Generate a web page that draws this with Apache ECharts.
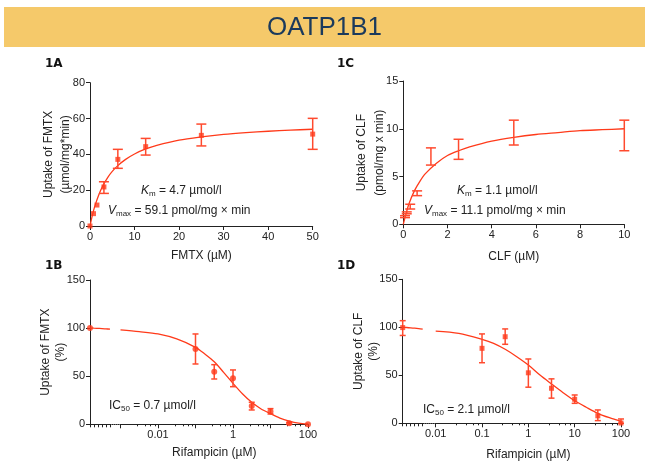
<!DOCTYPE html>
<html>
<head>
<meta charset="utf-8">
<script src="https://cdn.jsdelivr.net/npm/echarts@6/dist/echarts.min.js"></script>
<style>html,body{margin:0;padding:0;background:#fff}#c{width:649px;height:465px}</style>
</head>
<body>
<div id="c"></div>
<script>
// ---------- Panel 1A: FMTX uptake (Michaelis-Menten) ----------
const fmtxConc      = [0, 0.78, 1.56, 3.125, 6.25, 12.5, 25, 50];
const fmtxUptake    = [0, 6.9, 11.7, 21.8, 37.2, 44.3, 50.6, 51.3];
const fmtxErrLow    = [0, 6.9, 11.7, 18.2, 32.2, 39.6, 44.7, 42.8];
const fmtxErrHigh   = [0, 6.9, 11.7, 24.7, 42.8, 48.9, 56.9, 60.1];
const fmtxFitX      = [0, 0.5, 1, 2, 3, 4, 5, 6.25, 8, 10, 12.5, 15, 20, 25, 30, 35, 40, 45, 50];
const fmtxFitY      = [0, 5.7, 10.4, 17.6, 23, 27.2, 30.5, 33.7, 37.2, 40.2, 43, 45, 47.9, 49.7, 51.1, 52.1, 52.9, 53.5, 54];
const fmtxXTicks    = [0, 10, 20, 30, 40, 50];
const fmtxYTicks    = [0, 20, 40, 60, 80];

// ---------- Panel 1C: CLF uptake (Michaelis-Menten) ----------
const clfConc       = [0.078, 0.156, 0.3125, 0.625, 1.25, 2.5, 5, 10];
const clfUptake     = [0.8, 1.2, 1.85, 3.25, 7.1, 7.85, 9.6, 9.3];
const clfErrLow     = [0.7, 1.1, 1.6, 3.0, 6.2, 6.8, 8.3, 7.7];
const clfErrHigh    = [0.9, 1.3, 2.1, 3.5, 8.0, 8.9, 10.9, 10.9];
const clfFitX       = [0, 0.1, 0.25, 0.5, 0.75, 1, 1.5, 2, 2.5, 3, 4, 5, 6, 7, 8, 9, 10];
const clfFitY       = [0, 0.9, 2.1, 3.5, 4.5, 5.3, 6.4, 7.2, 7.7, 8.1, 8.7, 9.1, 9.4, 9.6, 9.8, 9.9, 10];
const clfXTicks     = [0, 2, 4, 6, 8, 10];
const clfYTicks     = [0, 5, 10, 15];

// ---------- Panel 1B: FMTX inhibition by rifampicin ----------
const segX          = [0, 1, 2, 3, 4, 5];          // broken-axis segment holding the control (0 µM)
const rifBControl   = 100;
const rifBSegFitY   = [100, 99.9, 99.7, 99.5, 99.2, 98.9];
const rifBConc      = [0.1, 0.316, 1, 3.16, 10, 31.6, 100];
const rifBUptake    = [78.3, 54.7, 47.8, 19, 13.2, 1, 0];
const rifBErrLow    = [62.7, 47.1, 39.1, 14.9, 10.7, 0, 0];
const rifBErrHigh   = [93.9, 62.0, 56.5, 22.9, 16.3, 2, 0];
const rifBFitX      = [0.001, 0.00316, 0.01, 0.0316, 0.1, 0.178, 0.316, 0.562, 1, 1.78, 3.16, 5.62, 10, 17.8, 31.6, 56.2, 100];
const rifBFitY      = [98.1, 96.3, 93.9, 88.7, 80, 73, 65, 54, 42.6, 31.8, 22.8, 15.9, 11, 6.5, 3.4, 1.3, 0.3];
const rifBXLabels   = ['0.01', '1', '100'];

// ---------- Panel 1D: CLF inhibition by rifampicin ----------
const rifDControl   = 99.7;
const rifDCtlErr    = [91.5, 106.9];
const rifDSegFitY   = [100, 99.8, 99.5, 99.1, 98.6, 98.0];
const rifDConc      = [0.1, 0.316, 1, 3.16, 10, 31.6, 100];
const rifDUptake    = [78.1, 90.2, 52.6, 36.5, 25, 7.8, 0.3];
const rifDErrLow    = [63.1, 82.3, 37.6, 26.2, 20.8, 2.8, 0];
const rifDErrHigh   = [93.1, 98.3, 67.0, 46.3, 29.5, 13.9, 4.5];
const rifDFitX      = [0.01, 0.0316, 0.1, 0.178, 0.316, 0.562, 1, 1.78, 3.16, 5.62, 10, 17.8, 31.6, 56.2, 100];
const rifDFitY      = [96.1, 93.7, 87.5, 83.3, 77.1, 69.4, 60.7, 50.3, 41, 31.9, 23.5, 16.7, 10.4, 5.8, 2];
const rifDXLabels   = ['0.01', '0.1', '1', '10', '100'];
const pctYTicks     = [0, 50, 100, 150];

// ---------- styling ----------
const RED = '#FF3A1A';
const ERR = '#FF4A2E';
const TXT = '#222222';
const FONT = 'Liberation Sans, Arial, sans-serif';

const zip = (...arrs) => arrs[0].map((_, i) => arrs.map(a => a[i]));
const step = t => t[1] - t[0];

function baseAxis(extra) {
  return Object.assign({
    nameMoveOverlap: false,
    axisLine: { show: true, onZero: false, lineStyle: { color: TXT, width: 1 } },
    axisTick: { show: true, length: 4, lineStyle: { color: TXT, width: 1 } },
    axisLabel: { color: TXT, fontSize: 11, fontFamily: FONT, margin: 5 },
    splitLine: { show: false },
    nameTextStyle: { color: TXT, fontSize: 12, fontFamily: FONT, lineHeight: 16 }
  }, extra);
}
function hiddenAxis(extra) {
  return Object.assign({ show: false, splitLine: { show: false } }, extra);
}
function errRender(capHalf) {
  return function (params, api) {
    const x = api.value(0);
    const lo = api.coord([x, api.value(1)]);
    const hi = api.coord([x, api.value(2)]);
    const st = { stroke: ERR, lineWidth: 1.5 };
    return {
      type: 'group',
      children: [
        { type: 'line', shape: { x1: lo[0], y1: lo[1], x2: hi[0], y2: hi[1] }, style: st },
        { type: 'line', shape: { x1: hi[0] - capHalf, y1: hi[1], x2: hi[0] + capHalf, y2: hi[1] }, style: st },
        { type: 'line', shape: { x1: lo[0] - capHalf, y1: lo[1], x2: lo[0] + capHalf, y2: lo[1] }, style: st }
      ]
    };
  };
}
function errSeries(xi, yi, rows, capHalf) {
  return { type: 'custom', xAxisIndex: xi, yAxisIndex: yi, renderItem: errRender(capHalf),
    encode: { x: 0, y: [1, 2] }, data: rows.filter(r => r[1] !== r[2]), z: 3, silent: true, clip: false };
}
function fitSeries(xi, yi, xs, ys) {
  return { type: 'line', xAxisIndex: xi, yAxisIndex: yi, data: zip(xs, ys), showSymbol: false,
    smooth: 0.3, lineStyle: { color: RED, width: 1.3 }, z: 2, silent: true, clip: false };
}
function ptSeries(xi, yi, xs, ys, symbol, size) {
  return { type: 'scatter', xAxisIndex: xi, yAxisIndex: yi, data: zip(xs, ys), symbol: symbol,
    symbolSize: size, itemStyle: { color: RED }, z: 4, silent: true, clip: false };
}
const fmtNum = v => String(Number(Number(v).toPrecision(6)));

const grids = [
  { left: 90,    top: 82.7, width: 222.7, height: 143.3 }, // 0: 1A
  { left: 403.3, top: 81,   width: 221,   height: 143.3 }, // 1: 1C
  { left: 90,    top: 280,  width: 20,    height: 144.3 }, // 2: 1B segment
  { left: 110,   top: 280,  width: 10.5,  height: 144.3 }, // 3: 1B break
  { left: 120.5, top: 280,  width: 187.5, height: 144.3 }, // 4: 1B main
  { left: 402.7, top: 279.3, width: 20,   height: 144 },   // 5: 1D segment
  { left: 422.7, top: 279.3, width: 13,   height: 144 },   // 6: 1D break
  { left: 435.7, top: 279.3, width: 185.3, height: 144 }   // 7: 1D main
].map(g => Object.assign({ containLabel: false, outerBoundsMode: 'none' }, g));

const xAxes = [
  baseAxis({ gridIndex: 0, type: 'value', min: fmtxXTicks[0], max: fmtxXTicks[fmtxXTicks.length - 1], interval: step(fmtxXTicks),
    name: 'FMTX (µM)', nameLocation: 'middle', nameGap: 22 }),
  baseAxis({ gridIndex: 1, type: 'value', min: clfXTicks[0], max: clfXTicks[clfXTicks.length - 1], interval: step(clfXTicks),
    name: 'CLF (µM)', nameLocation: 'middle', nameGap: 24 }),
  baseAxis({ gridIndex: 2, type: 'value', min: segX[0], max: segX[segX.length - 1], interval: 1,
    axisTick: { show: true, length: 3, lineStyle: { color: TXT } }, axisLabel: { show: false } }),
  baseAxis({ gridIndex: 3, type: 'value', min: 0, max: 1,
    axisLine: { show: true, lineStyle: { color: TXT, width: 1, type: 'dotted' } }, axisTick: { show: false }, axisLabel: { show: false } }),
  baseAxis({ gridIndex: 4, type: 'log', logBase: 10, min: 0.001, max: 100,
    minorTick: { show: true, splitNumber: 5, length: 2, lineStyle: { color: TXT } },
    axisLabel: { color: TXT, fontSize: 11, fontFamily: FONT, margin: 5, showMinLabel: true, showMaxLabel: true,
      formatter: v => rifBXLabels.includes(fmtNum(v)) ? fmtNum(v) : '' },
    name: 'Rifampicin (µM)', nameLocation: 'middle', nameGap: 20 }),
  baseAxis({ gridIndex: 5, type: 'value', min: segX[0], max: segX[segX.length - 1], interval: 1,
    axisTick: { show: true, length: 3, lineStyle: { color: TXT } }, axisLabel: { show: false } }),
  baseAxis({ gridIndex: 6, type: 'value', min: 0, max: 1,
    axisLine: { show: true, lineStyle: { color: TXT, width: 1, type: 'dotted' } }, axisTick: { show: false }, axisLabel: { show: false } }),
  baseAxis({ gridIndex: 7, type: 'log', logBase: 10, min: 0.01, max: 100,
    minorTick: { show: true, splitNumber: 5, length: 2, lineStyle: { color: TXT } },
    axisLabel: { color: TXT, fontSize: 11, fontFamily: FONT, margin: 5, showMinLabel: true, showMaxLabel: true,
      formatter: v => rifDXLabels.includes(fmtNum(v)) ? fmtNum(v) : '' },
    name: 'Rifampicin (µM)', nameLocation: 'middle', nameGap: 23 })
];

const yAxes = [
  baseAxis({ gridIndex: 0, type: 'value', min: fmtxYTicks[0], max: fmtxYTicks[fmtxYTicks.length - 1], interval: step(fmtxYTicks),
    name: 'Uptake of FMTX\n(µmol/mg*min)', nameLocation: 'middle', nameGap: 16,
    nameTextStyle: { color: TXT, fontSize: 12, fontFamily: FONT, lineHeight: 17 } }),
  baseAxis({ gridIndex: 1, type: 'value', min: clfYTicks[0], max: clfYTicks[clfYTicks.length - 1], interval: step(clfYTicks),
    name: 'Uptake of CLF\n(pmol/mg x min)', nameLocation: 'middle', nameGap: 15,
    nameTextStyle: { color: TXT, fontSize: 12, fontFamily: FONT, lineHeight: 18 } }),
  baseAxis({ gridIndex: 2, type: 'value', min: pctYTicks[0], max: pctYTicks[pctYTicks.length - 1], interval: step(pctYTicks),
    name: 'Uptake of FMTX\n(%)', nameLocation: 'middle', nameGap: 22,
    nameTextStyle: { color: TXT, fontSize: 12, fontFamily: FONT, lineHeight: 15 } }),
  hiddenAxis({ gridIndex: 3, type: 'value', min: 0, max: 150 }),
  hiddenAxis({ gridIndex: 4, type: 'value', min: 0, max: 150 }),
  baseAxis({ gridIndex: 5, type: 'value', min: pctYTicks[0], max: pctYTicks[pctYTicks.length - 1], interval: step(pctYTicks),
    name: 'Uptake of CLF\n(%)', nameLocation: 'middle', nameGap: 22,
    nameTextStyle: { color: TXT, fontSize: 12, fontFamily: FONT, lineHeight: 15 } }),
  hiddenAxis({ gridIndex: 6, type: 'value', min: 0, max: 150 }),
  hiddenAxis({ gridIndex: 7, type: 'value', min: 0, max: 150 })
];

const series = [
  // 1A
  fitSeries(0, 0, fmtxFitX, fmtxFitY),
  errSeries(0, 0, zip(fmtxConc, fmtxErrLow, fmtxErrHigh), 5),
  ptSeries(0, 0, fmtxConc, fmtxUptake, 'rect', 5),
  // 1C
  fitSeries(1, 1, clfFitX, clfFitY),
  errSeries(1, 1, zip(clfConc, clfErrLow, clfErrHigh), 5),
  // 1B
  fitSeries(2, 2, segX, rifBSegFitY),
  ptSeries(2, 2, [segX[0]], [rifBControl], 'circle', 6),
  { type: 'line', xAxisIndex: 3, yAxisIndex: 3, data: [] },
  fitSeries(4, 4, rifBFitX, rifBFitY),
  errSeries(4, 4, zip(rifBConc, rifBErrLow, rifBErrHigh), 3),
  ptSeries(4, 4, rifBConc, rifBUptake, 'circle', 6),
  // 1D
  fitSeries(5, 5, segX, rifDSegFitY),
  errSeries(5, 5, [[segX[0], rifDCtlErr[0], rifDCtlErr[1]]], 3),
  ptSeries(5, 5, [segX[0]], [rifDControl], 'rect', 5),
  { type: 'line', xAxisIndex: 6, yAxisIndex: 6, data: [] },
  fitSeries(7, 7, rifDFitX, rifDFitY),
  errSeries(7, 7, zip(rifDConc, rifDErrLow, rifDErrHigh), 3),
  ptSeries(7, 7, rifDConc, rifDUptake, 'rect', 5)
];

const rich = {
  i: { fontStyle: 'italic', fontSize: 12, fontFamily: FONT, color: TXT, lineHeight: 14 },
  n: { fontSize: 12, fontFamily: FONT, color: TXT, lineHeight: 14 },
  s: { fontSize: 8, fontFamily: FONT, color: TXT, lineHeight: 8, verticalAlign: 'bottom' }
};
function note(left, top, text) {
  return { type: 'text', left: left, top: top, silent: true, style: { text: text, rich: rich, fill: TXT, font: '12px ' + FONT } };
}
function panelLabel(left, top, text) {
  return { type: 'text', left: left, top: top, silent: true,
    style: { text: text, fill: '#111', font: 'bold 12px DejaVu Sans, Verdana, sans-serif' } };
}

const chart = echarts.init(document.getElementById('c'), null, { renderer: 'canvas' });
chart.setOption({
  animation: false,
  backgroundColor: '#ffffff',
  title: { text: 'OATP1B1', left: 'center', top: 10,
    textStyle: { color: '#1B3A5C', fontSize: 26, fontWeight: 'normal', fontFamily: FONT } },
  graphic: [
    { type: 'rect', left: 4, top: 7, z: -10, silent: true, shape: { width: 641, height: 40 }, style: { fill: '#F5C96A' } },
    panelLabel(45, 58, '1A'),
    panelLabel(337, 58, '1C'),
    panelLabel(45, 260, '1B'),
    panelLabel(337, 260, '1D'),
    note(141, 185, '{i|K}{s|m}{n| = 4.7 µmol/l}'),
    note(108, 205, '{i|V}{s|max}{n| = 59.1 pmol/mg × min}'),
    note(457, 185, '{i|K}{s|m}{n| = 1.1 µmol/l}'),
    note(424, 205, '{i|V}{s|max}{n| = 11.1 pmol/mg × min}'),
    note(109, 400, '{n|IC}{s|50}{n| = 0.7 µmol/l}'),
    note(423, 404, '{n|IC}{s|50}{n| = 2.1 µmol/l}')
  ],
  grid: grids,
  xAxis: xAxes,
  yAxis: yAxes,
  series: series
});
</script>
</body>
</html>
